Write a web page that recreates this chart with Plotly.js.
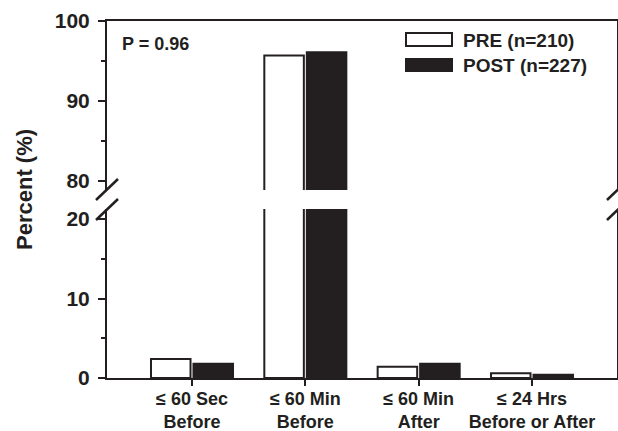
<!DOCTYPE html>
<html>
<head>
<meta charset="utf-8">
<script src="https://cdn.plot.ly/plotly-3.0.1.min.js"></script>
<style>html,body{margin:0;padding:0;background:#fff;}</style>
</head>
<body>
<div id="chart" style="width:618px;height:431px;"></div>
<script>
const categories = ['≤ 60 Sec<br>Before', '≤ 60 Min<br>Before', '≤ 60 Min<br>After', '≤ 24 Hrs<br>Before or After'];
const preValues = [2.4, 95.7, 1.4, 0.6];
const postValues = [1.8, 96.1, 1.8, 0.4];
const preName = 'PRE (n=210)';
const postName = 'POST (n=227)';
const pText = 'P = 0.96';
const yTitle = 'Percent (%)';

const INK = '#231f20';
const FONT = 'Liberation Sans, Arial, Helvetica, sans-serif';

function bar(vals, name, fill, xa, ya) {
  return {
    type: 'bar', x: categories, y: vals, name: name,
    xaxis: xa, yaxis: ya, showlegend: false, hoverinfo: 'skip',
    marker: {color: fill, line: {color: INK, width: 2}}
  };
}

const data = [
  bar(preValues, preName, '#ffffff', 'x', 'y'),
  bar(postValues, postName, INK, 'x', 'y'),
  bar(preValues, preName, '#ffffff', 'x2', 'y2'),
  bar(postValues, postName, INK, 'x2', 'y2')
];

// pixel helpers for decorations (plot area: x 107..617, y 21..378)
const L = 107, R = 617, T = 21, B = 378;
const px = v => (v - L) / (R - L);
const py = v => (B - v) / (B - T);

const slash = (x0, y0, x1, y1) => ({
  type: 'line', xref: 'paper', yref: 'paper',
  x0: px(x0), y0: py(y0), x1: px(x1), y1: py(y1),
  line: {color: INK, width: 2.5}, layer: 'above'
});

const yCommon = {
  showline: true, mirror: true, linecolor: INK, linewidth: 2,
  ticks: 'outside', ticklen: 7, tickwidth: 2, tickcolor: INK,
  tick0: 0, dtick: 10,
  minor: {dtick: 5, ticks: 'outside', ticklen: 4, tickwidth: 2, tickcolor: INK, showgrid: false},
  showgrid: false, zeroline: false, fixedrange: true,
  tickfont: {family: FONT, size: 21, color: INK, weight: 'bold'},
  ticklabelstandoff: 4
};

const layout = {
  width: 618, height: 431,
  margin: {l: 107, r: 1, t: 21, b: 53, pad: 0},
  paper_bgcolor: '#ffffff', plot_bgcolor: 'rgba(0,0,0,0)',
  barmode: 'group', bargap: 0.25, bargroupgap: 0.07,
  showlegend: false,
  xaxis: {
    anchor: 'y', range: [-0.75, 3.75], showline: true, linecolor: INK, linewidth: 2,
    ticks: 'outside', ticklen: 6, tickwidth: 2, tickcolor: INK,
    tickfont: {family: FONT, size: 18, color: INK, weight: 'bold'},
    ticklabelstandoff: -3,
    showgrid: false, zeroline: false, fixedrange: true
  },
  xaxis2: {
    anchor: 'y2', matches: 'x', side: 'top', showline: true, linecolor: INK, linewidth: 2,
    ticks: '', showticklabels: false, showgrid: false, zeroline: false, fixedrange: true
  },
  yaxis: Object.assign({}, yCommon, {domain: [0, py(209)], range: [0, 21.26]}),
  yaxis2: Object.assign({}, yCommon, {domain: [py(190), 1], range: [78.875, 100]}),
  shapes: [
    slash(96, 200, 118, 179), slash(96, 220, 118, 199),
    slash(607, 200, 629, 179), slash(607, 220, 629, 199),
    {type: 'rect', xref: 'paper', yref: 'paper', x0: px(406), x1: px(452), y0: py(46), y1: py(33),
     fillcolor: '#ffffff', line: {color: INK, width: 2}},
    {type: 'rect', xref: 'paper', yref: 'paper', x0: px(406), x1: px(452), y0: py(71), y1: py(59),
     fillcolor: INK, line: {color: INK, width: 2}}
  ],
  annotations: [
    {xref: 'paper', yref: 'paper', x: px(120), y: py(44), xanchor: 'left', yanchor: 'middle',
     text: pText, showarrow: false, font: {family: FONT, size: 18, color: INK, weight: 'bold'}},
    {xref: 'paper', yref: 'paper', x: px(461), y: py(40), xanchor: 'left', yanchor: 'middle',
     text: preName, showarrow: false, font: {family: FONT, size: 19, color: INK, weight: 'bold'}},
    {xref: 'paper', yref: 'paper', x: px(461), y: py(65), xanchor: 'left', yanchor: 'middle',
     text: postName, showarrow: false, font: {family: FONT, size: 19, color: INK, weight: 'bold'}},
    {xref: 'paper', yref: 'paper', x: px(24), y: py(190), xanchor: 'center', yanchor: 'middle',
     textangle: -90, text: yTitle, showarrow: false,
     font: {family: FONT, size: 22, color: INK, weight: 'bold'}}
  ]
};

Plotly.newPlot('chart', data, layout, {displayModeBar: false, staticPlot: true});
</script>
</body>
</html>
